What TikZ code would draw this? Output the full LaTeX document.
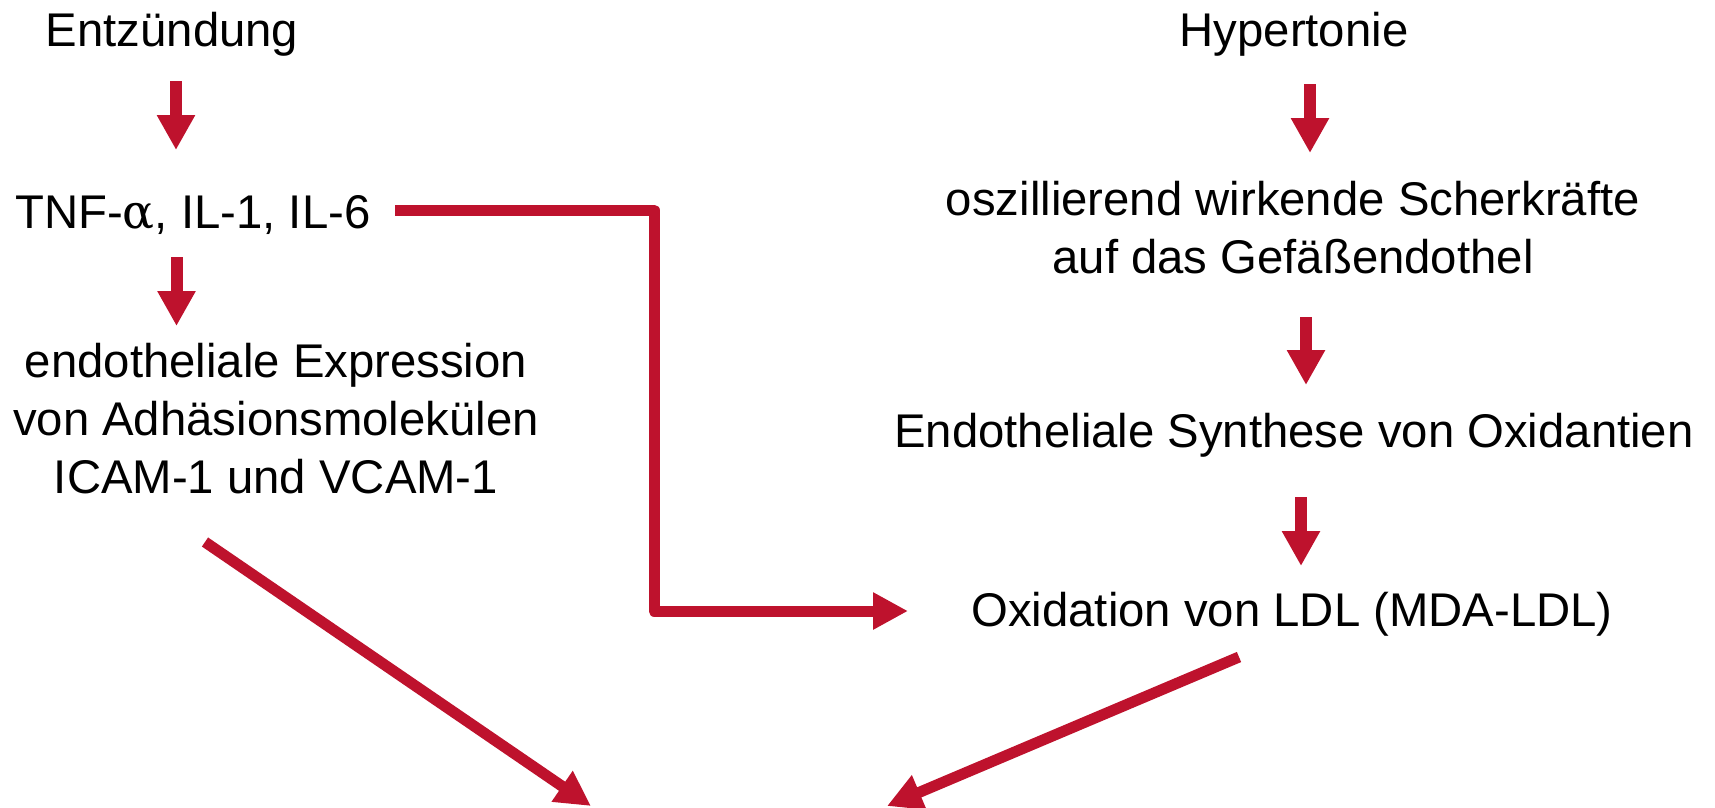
\documentclass[tikz,border=0pt]{standalone}
\usepackage{fontspec}
\setmainfont{Liberation Sans}
\newfontfamily\greekfont{DejaVu Serif}
\usetikzlibrary{arrows.meta}
\definecolor{arrred}{RGB}{190,18,45}
\begin{document}
\begin{tikzpicture}[x=1pt,y=-1pt,
  lbl/.style={inner sep=0pt, anchor=base, font=\fontsize{47.3}{58}\selectfont, align=center},
  blk/.style={draw=arrred, line width=12pt, -{Triangle[length=35pt,width=36pt]}},
  conn/.style={draw=arrred, line width=11pt, line join=round, -{Triangle[length=35pt,width=35pt]}}]
\useasboundingbox (0,0) rectangle (1715,807);
\clip (0,0) rectangle (1715,807);
% text nodes (multi-line nodes: base = last line)
\node[lbl] (entz) at (172,46) {Entzündung};
\node[lbl] (hyp) at (1294,46) {Hypertonie};
\node[lbl, anchor=base west] (tnf) at (15,228) {TNF-{\greekfont α}, IL-1, IL-6};
\node[lbl] (expr) at (276,493) {endotheliale Expression\\von Adhäsionsmolekülen\\ICAM-1 und VCAM-1};
\node[lbl] (osz) at (1293,273) {oszillierend wirkende Scherkräfte\\auf das Gefäßendothel};
\node[lbl] (synth) at (1294,447) {Endotheliale Synthese von Oxidantien};
\node[lbl] (oxi) at (1292,626) {Oxidation von LDL (MDA-LDL)};
% arrow end points
\coordinate (a1s) at (176,81);   \coordinate (a1e) at (176,150);
\coordinate (a2s) at (176.5,257); \coordinate (a2e) at (176.5,326);
\coordinate (a3s) at (1310,84);  \coordinate (a3e) at (1310,153);
\coordinate (a4s) at (1306,317); \coordinate (a4e) at (1306,385);
\coordinate (a5s) at (1301,497); \coordinate (a5e) at (1301,566);
\coordinate (ls) at (395,210);
\coordinate (lc1) at (654,210);
\coordinate (lc2) at (654,611);
\coordinate (le) at (908,611);
\coordinate (dls) at (205,542); \coordinate (dle) at (591,806);
\coordinate (drs) at (1239,657); \coordinate (dre) at (887,806);
% connectors
\draw[blk] (a1s) -- (a1e);
\draw[blk] (a2s) -- (a2e);
\draw[blk] (a3s) -- (a3e);
\draw[blk] (a4s) -- (a4e);
\draw[blk] (a5s) -- (a5e);
\draw[conn] (ls) -- (lc1) -- (lc2) -- (le);
\draw[conn] (dls) -- (dle);
\draw[conn] (drs) -- (dre);
\end{tikzpicture}
\end{document}
